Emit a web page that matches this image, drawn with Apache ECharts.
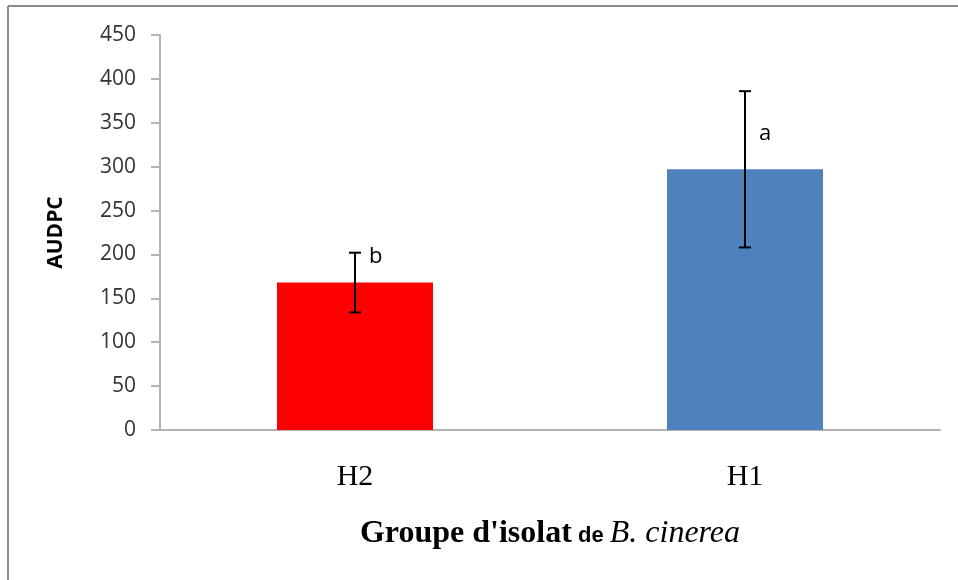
<!DOCTYPE html>
<html>
<head>
<meta charset="utf-8">
<script src="https://cdn.jsdelivr.net/npm/echarts@6/dist/echarts.min.js"></script>
<style>
  html, body { margin: 0; padding: 0; background: #fff; }
  #chart { width: 958px; height: 580px; }
</style>
</head>
<body>
<div id="chart"></div>
<script>
// AUDPC per B. cinerea isolate group, mean ± error, with significance letters
const categories = ['H2', 'H1'];
const audpcMean = [168, 297];
const audpcError = [34, 89];
const groupLetters = ['b', 'a'];
const yTicks = { min: 0, max: 450, interval: 50 };

const barColors = ['#ff0000', '#4f81bd'];
// vertical pixel shift of each letter relative to its error-bar top
const letterShift = [4, 43];

const chart = echarts.init(document.getElementById('chart'));

const errorData = categories.map((c, i) => [i, audpcMean[i] - audpcError[i], audpcMean[i] + audpcError[i], groupLetters[i]]);

chart.setOption({
  animation: false,
  grid: { left: 160, right: 18, top: 35, bottom: 150 },
  graphic: [
    { type: 'line', shape: { x1: 8, y1: 6, x2: 958, y2: 6 }, style: { stroke: '#8c8c8c', lineWidth: 2 } },
    { type: 'line', shape: { x1: 8, y1: 6, x2: 8, y2: 580 }, style: { stroke: '#8c8c8c', lineWidth: 2 } }
  ],
  xAxis: {
    type: 'category',
    data: categories,
    axisLine: { lineStyle: { color: '#b4b4b4', width: 2 } },
    axisTick: { show: false },
    axisLabel: {
      margin: 32,
      fontFamily: 'Liberation Serif',
      fontSize: 30,
      color: '#000'
    },
    name: '{b|Groupe d\'isolat}{s| de }{i|B. cinerea}',
    nameLocation: 'middle',
    nameGap: 88,
    nameTextStyle: {
      rich: {
        b: { fontFamily: 'Liberation Serif', fontWeight: 'bold', fontSize: 32, color: '#000' },
        s: { fontFamily: 'Liberation Sans', fontWeight: 'bold', fontSize: 22, color: '#000', padding: [3, 0, 0, 0] },
        i: { fontFamily: 'Liberation Serif', fontStyle: 'italic', fontSize: 32, color: '#000' }
      }
    }
  },
  yAxis: {
    type: 'value',
    min: yTicks.min,
    max: yTicks.max,
    interval: yTicks.interval,
    axisLine: { show: true, lineStyle: { color: '#b4b4b4', width: 2 } },
    axisTick: { show: true, length: 9, lineStyle: { color: '#b4b4b4', width: 2 } },
    splitLine: { show: false },
    axisLabel: {
      margin: 24,
      fontFamily: 'Open Sans',
      fontSize: 21,
      color: '#333'
    },
    name: 'AUDPC',
    nameLocation: 'middle',
    nameGap: 93,
    nameTextStyle: { fontFamily: 'Open Sans', fontWeight: 'bold', fontSize: 21, color: '#000' }
  },
  series: [
    {
      type: 'bar',
      barWidth: '40%',
      data: audpcMean.map((v, i) => ({ value: v, itemStyle: { color: barColors[i] } }))
    },
    {
      type: 'custom',
      data: errorData,
      encode: { x: 0, y: [1, 2] },
      z: 5,
      renderItem: function (params, api) {
        const idx = api.value(0);
        const lo = api.coord([idx, api.value(1)]);
        const hi = api.coord([idx, api.value(2)]);
        const cap = 6;
        const style = { stroke: '#000', lineWidth: 2 };
        const i = params.dataIndex;
        return {
          type: 'group',
          children: [
            { type: 'line', shape: { x1: hi[0], y1: hi[1], x2: lo[0], y2: lo[1] }, style },
            { type: 'line', shape: { x1: hi[0] - cap, y1: hi[1], x2: hi[0] + cap, y2: hi[1] }, style },
            { type: 'line', shape: { x1: lo[0] - cap, y1: lo[1], x2: lo[0] + cap, y2: lo[1] }, style },
            {
              type: 'text',
              x: hi[0] + 14,
              y: hi[1] + letterShift[i],
              style: {
                text: groupLetters[i],
                fontFamily: 'Open Sans',
                fontSize: 22,
                fill: '#000',
                verticalAlign: 'middle'
              }
            }
          ]
        };
      }
    }
  ]
});
</script>
</body>
</html>
